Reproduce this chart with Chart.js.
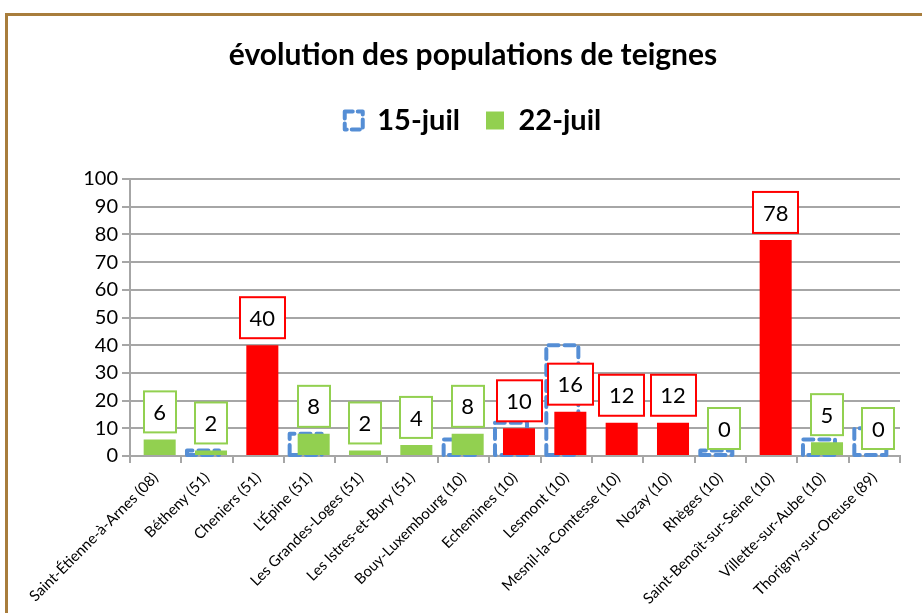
<!DOCTYPE html>
<html><head><meta charset="utf-8">
<script src="https://cdn.jsdelivr.net/npm/chart.js@4.4.0/dist/chart.umd.min.js"></script>
<style>
html,body{margin:0;padding:0;background:#fff;}
#wrap{position:relative;width:922px;height:613px;overflow:hidden;}
#frame{position:absolute;left:5px;top:13px;width:940px;height:620px;border-left:3px solid #A87D3C;border-top:3px solid #A87D3C;box-sizing:border-box;pointer-events:none;}
canvas{position:absolute;left:0;top:0;}
</style></head><body>
<div id="wrap"><canvas id="c" width="922" height="613"></canvas><div id="frame"></div></div>
<script>
const categories = ['Saint-Étienne-à-Arnes (08)', 'Bétheny (51)', 'Cheniers (51)', "L'Épine (51)", 'Les Grandes-Loges (51)', 'Les Istres-et-Bury (51)', 'Bouy-Luxembourg (10)', 'Echemines (10)', 'Lesmont (10)', 'Mesnil-la-Comtesse (10)', 'Nozay (10)', 'Rhèges (10)', 'Saint-Benoît-sur-Seine (10)', 'Villette-sur-Aube (10)', 'Thorigny-sur-Oreuse (89)'];
const juil15 = [null, 2, null, 8, null, null, 6, 12, 40, null, null, 2, null, 6, 10];
const juil22 = [6, 2, 40, 8, 2, 4, 8, 10, 16, 12, 12, 0, 78, 5, 0];
const yTicks = [0, 10, 20, 30, 40, 50, 60, 70, 80, 90, 100];
const seriesNames = ['15-juil', '22-juil'];
const titleText = 'évolution des populations de teignes';

const BLUE = '#558ED5', GREEN = '#92D050', RED = '#FF0000', GRID = '#A6A6A6';
const FONT = 'Lato';
Chart.defaults.font.family = FONT;
Chart.defaults.color = '#000';

const dashPlugin = {
  id: 'dashedBars',
  beforeDatasetsDraw(chart) {
    const meta = chart.getDatasetMeta(0);
    const c = chart.ctx;
    c.save();
    c.strokeStyle = BLUE; c.lineWidth = 4; c.setLineDash([10, 6]);
    c.lineCap = 'round'; c.lineJoin = 'round';
    meta.data.forEach((bar, i) => {
      if (juil15[i] == null) return;
      const p = bar.getProps(['x', 'y', 'base', 'width'], true);
      c.beginPath();
      c.moveTo(p.x - p.width / 2, p.base);
      c.lineTo(p.x - p.width / 2, p.y);
      c.lineTo(p.x + p.width / 2, p.y);
      c.lineTo(p.x + p.width / 2, p.base);
      c.closePath();
      c.stroke();
    });
    c.restore();
  }
};

const labelPlugin = {
  id: 'valueBoxes',
  afterDatasetsDraw(chart) {
    const meta = chart.getDatasetMeta(1);
    const c = chart.ctx;
    c.save();
    c.font = '22px ' + FONT;
    c.textAlign = 'center'; c.textBaseline = 'middle';
    meta.data.forEach((bar, i) => {
      const v = juil22[i];
      if (v == null) return;
      const p = bar.getProps(['x', 'y'], true);
      const txt = String(v);
      const w = Math.round(c.measureText(txt).width + 19);
      const h = 41;
      const bottom = p.y - 7;
      const left = Math.round(p.x - w / 2);
      c.fillStyle = '#fff';
      c.fillRect(left, bottom - h, w, h);
      c.strokeStyle = v >= 10 ? RED : GREEN; c.lineWidth = 2;
      c.strokeRect(left, bottom - h, w, h);
      c.fillStyle = '#000';
      c.fillText(txt, p.x, bottom - h / 2 + 1);
    });
    c.restore();
  }
};

new Chart(document.getElementById('c'), {
  type: 'bar',
  data: {
    labels: categories,
    datasets: [
      { label: seriesNames[0], data: juil15, backgroundColor: 'rgba(0,0,0,0)', borderWidth: 0 },
      { label: seriesNames[1], data: juil22, backgroundColor: juil22.map(v => v >= 10 ? RED : GREEN), borderWidth: 0 }
    ]
  },
  options: {
    responsive: false, animation: false,
    categoryPercentage: 0.312, barPercentage: 4,
    layout: { padding: { top: 0, left: 24, right: 0, bottom: 0 } },
    plugins: {
      title: { display: true, text: titleText, font: { size: 30, weight: 'bold' }, color: '#000', padding: { top: 37, bottom: 7 } },
      subtitle: { display: true, text: '', weight: 500, font: { size: 10 }, padding: { top: 0, bottom: 22 } },
      legend: {
        position: 'top',
        labels: {
          boxWidth: 18, boxHeight: 18, padding: 26, color: '#000',
          font: { size: 29, weight: 'bold' },
          generateLabels: () => [
            { text: seriesNames[0], fillStyle: 'rgba(0,0,0,0)', strokeStyle: BLUE, lineWidth: 4, lineDash: [8, 5], lineCap: 'round', lineJoin: 'round', datasetIndex: 0, fontColor: '#000' },
            { text: seriesNames[1], fillStyle: GREEN, strokeStyle: GREEN, lineWidth: 0, datasetIndex: 1, fontColor: '#000' }
          ]
        }
      },
      tooltip: { enabled: false }
    },
    scales: {
      x: {
        grid: { drawOnChartArea: false, color: GRID, lineWidth: 2, tickLength: 7, offset: true },
        border: { color: GRID, width: 2 },
        ticks: { minRotation: 45, maxRotation: 45, autoSkip: false, font: { size: 15 }, color: '#000', padding: 6 },
        afterFit(s) { s.height = 157; }
      },
      y: {
        min: 0, max: 100,
        afterBuildTicks(s) { s.ticks = yTicks.map(v => ({ value: v })); },
        ticks: { font: { size: 20 }, color: '#000', padding: 4 },
        grid: { color: GRID, lineWidth: 2, tickLength: 8 },
        border: { color: GRID, width: 2 },
        afterFit(s) { s.width = 106; }
      },
      yR: {
        type: 'linear', position: 'right', display: true,
        grid: { display: false }, ticks: { display: false }, border: { display: false },
        afterFit(s) { s.width = 22; }
      }
    }
  },
  plugins: [dashPlugin, labelPlugin]
});
</script>
</body></html>
